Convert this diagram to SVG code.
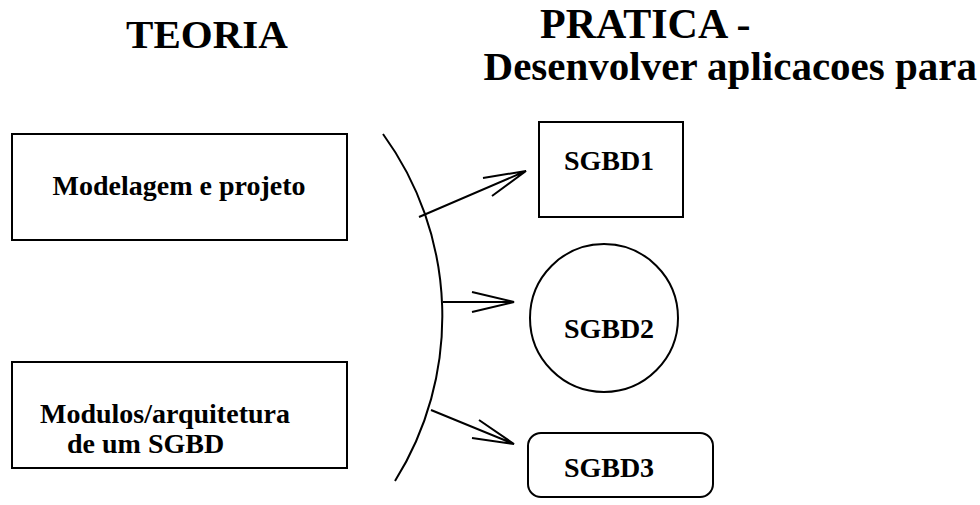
<svg xmlns="http://www.w3.org/2000/svg" width="980" height="505" viewBox="0 0 980 505">
<style>
text{font-family:"Liberation Serif","Times New Roman",serif;font-weight:bold;fill:#000}
.t{font-size:41px}
.l{font-size:28px}
.s{fill:none;stroke:#000;stroke-width:2}
</style>
<rect width="980" height="505" fill="#fff"/>
<g id="title-teoria"><text class="t" x="207" y="48" text-anchor="middle">TEORIA</text></g>
<g id="title-pratica">
<text class="t" x="540" y="38" style="font-size:42px">PRATICA -</text>
<text class="t" x="977" y="80" text-anchor="end">Desenvolver aplicacoes para</text>
</g>
<g id="modelagem"><rect class="s" x="12" y="134" width="335" height="106"/><text class="l" x="179" y="195" text-anchor="middle">Modelagem e projeto</text></g>
<g id="modulos"><rect class="s" x="12" y="362" width="335" height="106"/><text class="l" x="40" y="423">Modulos/arquitetura</text><text class="l" x="67" y="453">de um SGBD</text></g>
<g id="sgbd1"><rect class="s" x="539" y="122" width="144" height="95"/><text class="l" x="609" y="170" text-anchor="middle">SGBD1</text></g>
<g id="sgbd2"><circle class="s" cx="604" cy="318" r="74"/><text class="l" x="609" y="338" text-anchor="middle">SGBD2</text></g>
<g id="sgbd3"><rect class="s" x="528" y="433" width="185" height="64" rx="13"/><text class="l" x="609" y="477" text-anchor="middle">SGBD3</text></g>
<g id="connectors" class="s">
<path class="s" d="M383,134 A310,310 0 0,1 395,481"/>
<path class="s" d="M419,217 L526,171 M483,178 L526,171 L492,196"/>
<path class="s" d="M443,302 L514,302 M472,292 L514,302 L472,312"/>
<path class="s" d="M431,410 L514,444 M479,420 L514,444 L472,438"/>
</g>
</svg>
